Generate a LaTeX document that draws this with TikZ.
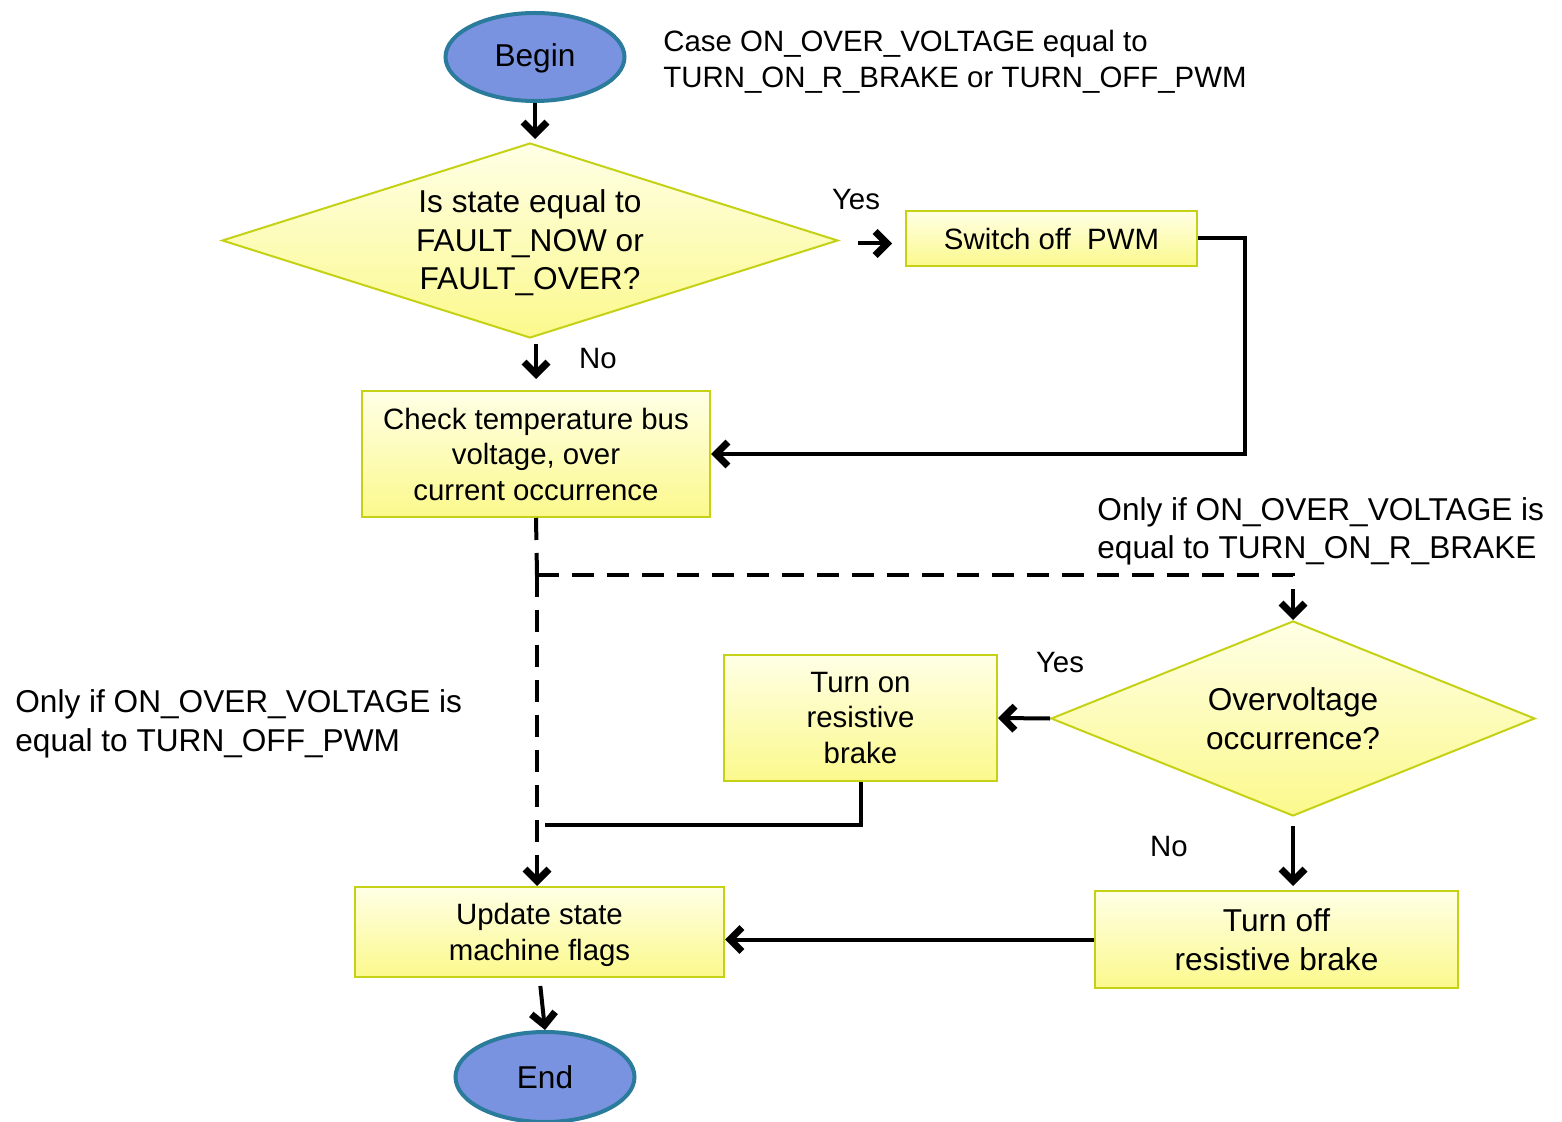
\documentclass[tikz,border=0pt]{standalone}
\usepackage{fontspec}
\setmainfont{Liberation Sans}
\usetikzlibrary{shapes.geometric,arrows.meta}
\definecolor{boxtop}{RGB}{255,255,230}
\definecolor{boxbot}{RGB}{251,249,140}
\definecolor{boxline}{RGB}{196,209,20}
\definecolor{ovfill}{RGB}{122,147,224}
\definecolor{ovline}{RGB}{43,124,156}
\newcommand{\smallfnt}{\fontsize{14.7}{17.75}\selectfont}
\newcommand{\largefnt}{\fontsize{15.8}{19.25}\selectfont}
\tikzset{
  boxnode/.style={rectangle, draw=boxline, line width=1pt, top color=boxtop, bottom color=boxbot, align=center, inner sep=0pt, font=\smallfnt},
  dianode/.style={diamond, draw=boxline, line width=1pt, top color=boxtop, bottom color=boxbot, align=center, inner sep=0pt, font=\largefnt},
  ovnode/.style={ellipse, draw=ovline, line width=2pt, fill=ovfill, inner sep=0pt, font=\largefnt},
  txtnode/.style={align=left, inner sep=0pt},
  conn/.style={line width=2pt},
  tip/.style={-{Straight Barb[length=6pt,width=12pt,line width=3.5pt]}},
  arr/.style={line width=2pt, tip},
  dsh/.style={line width=2pt, dash pattern=on 11pt off 6.5pt},
}
\begin{document}
\begin{tikzpicture}[x=0.5pt,y=-0.5pt]
\useasboundingbox (0,0) rectangle (1562,1122);
% nodes
\node[ovnode, minimum width=89.5pt, minimum height=44pt] (begin) at (535,57) {\rule{0pt}{13pt}Begin};
\node[dianode, aspect=3.16, minimum width=308pt, minimum height=97.5pt] (d1) at (530,240.5) {\rule{0pt}{14pt}Is state equal to\\FAULT\_NOW or\\FAULT\_OVER?};
\node[boxnode, minimum width=145.5pt, minimum height=27.5pt] (pwm) at (1051.5,238.5) {Switch off~~PWM};
\node[boxnode, minimum width=174pt, minimum height=63pt] (check) at (536,454) {Check temperature bus\\voltage, over\\current occurrence};
\node[dianode, aspect=2.48, minimum width=242pt, minimum height=97.5pt] (d2) at (1293,718.5) {Overvoltage\\occurrence?};
\node[boxnode, minimum width=136.5pt, minimum height=63pt] (turnon) at (860.5,718) {Turn on\\resistive\\brake};
\node[boxnode, font=\largefnt, minimum width=181.5pt, minimum height=48.5pt] (turnoff) at (1276.5,939.5) {Turn off\\resistive brake};
\node[boxnode, minimum width=184.5pt, minimum height=45pt] (update) at (539.5,932) {\rule{0pt}{13.7pt}Update state\\machine flags};
\node[ovnode, minimum width=89.5pt, minimum height=45pt] (end) at (545,1077) {End};
% texts
\node[txtnode, font=\smallfnt, anchor=west] (case) at (663,62) {Case ON\_OVER\_VOLTAGE equal to\\TURN\_ON\_R\_BRAKE or TURN\_OFF\_PWM};
\node[txtnode, font=\largefnt, anchor=west] (only1) at (1097,531.5) {Only if ON\_OVER\_VOLTAGE is\\equal to TURN\_ON\_R\_BRAKE};
\node[txtnode, font=\largefnt, anchor=west] (only2) at (15,724) {Only if ON\_OVER\_VOLTAGE is\\equal to TURN\_OFF\_PWM};
\node[font=\smallfnt] (yes1) at (856,200) {Yes};
\node[font=\smallfnt] (no1) at (598,359) {No};
\node[font=\smallfnt] (yes2) at (1060,663) {Yes};
\node[font=\smallfnt] (no2) at (1169,847) {No};
% connectors
\coordinate (c1) at (1245,454);
\coordinate (j1) at (537,575);
\coordinate (j2) at (545,825);
\draw[arr, shorten >=1.5pt] (begin.south) -- (begin.south |- d1.north);
\draw[arr, shorten <=9.5pt, shorten >=6.5pt] ([yshift=-1.5pt]d1.east) -- ([yshift=-1.5pt]d1.east -| pwm.west);
\draw[arr, shorten <=2.5pt, shorten >=5.5pt] (check.north |- d1.south) -- (check.north);
\draw[arr] (pwm.east) -| (c1) -- (check.east);
\draw[dsh] (check.south) -- (j1);
\draw[dsh, tip] (j1) -| (d2.north);
\draw[dsh, tip] (j1) -- (j1 |- update.north);
\draw[conn] (turnon.south) |- (j2);
\draw[arr] (d2.west) -- (turnon.east);
\draw[arr, shorten <=4.5pt, shorten >=2pt] (d2.south) -- (d2.south |- turnoff.north);
\draw[arr] (turnoff.west) -- (turnoff.west -| update.east);
\draw[arr, shorten <=4pt] (update.south) -- (end.north);
\end{tikzpicture}
\end{document}
